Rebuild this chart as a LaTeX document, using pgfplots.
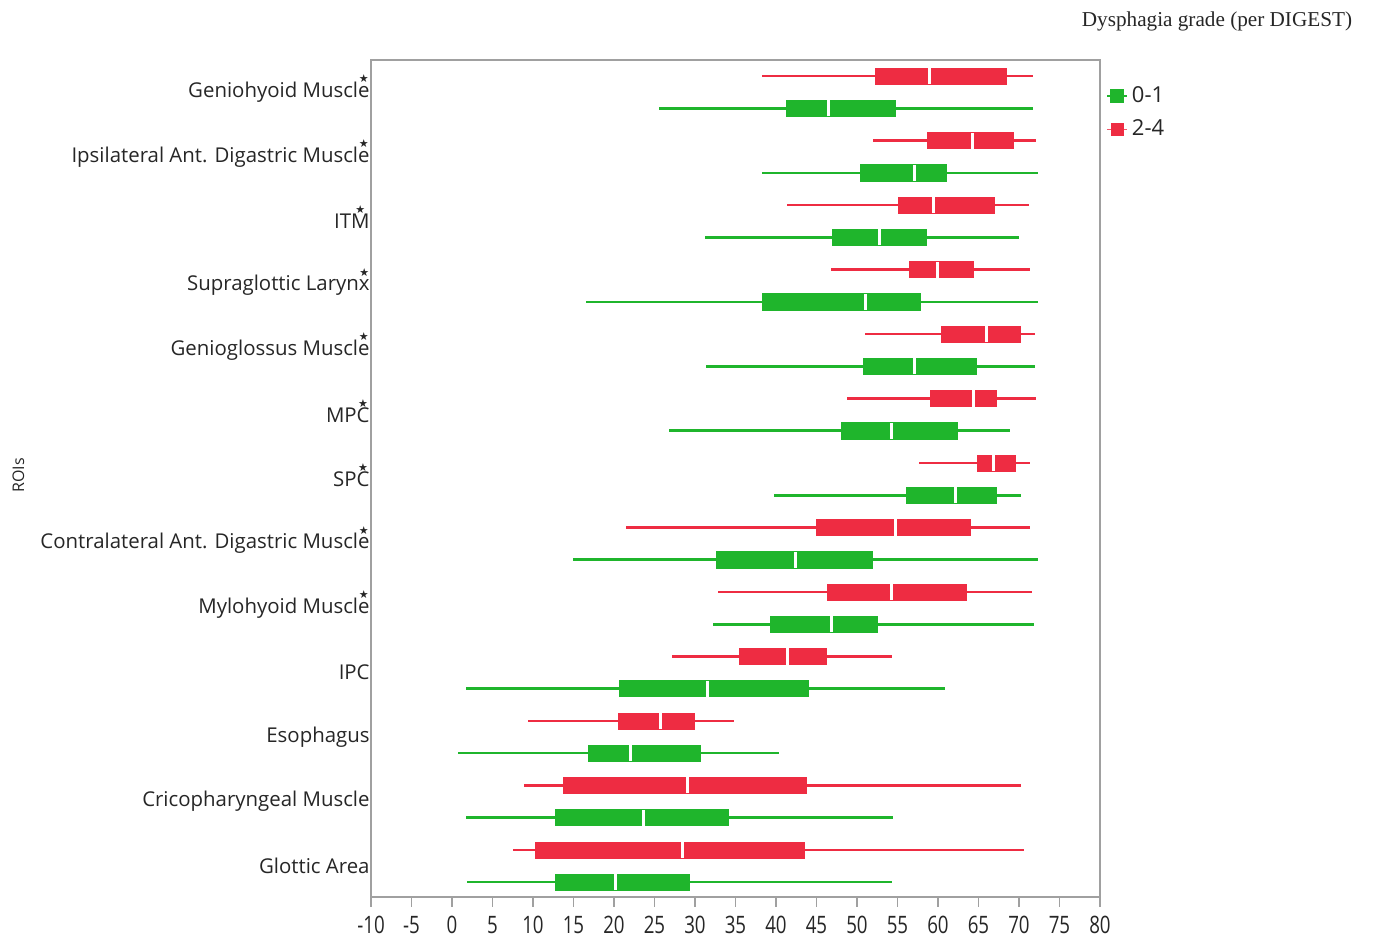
\documentclass[border=0pt]{standalone}
\usepackage{pgfplots}
\pgfplotsset{compat=1.18}
\usepgfplotslibrary{statistics}
\usepackage{fontspec}
\setmainfont{Open Sans}
\newfontfamily\seriffont{Liberation Serif}
\newfontfamily\starfont{DejaVu Sans}
\definecolor{gG}{RGB}{31,181,44}
\definecolor{rR}{RGB}{238,44,66}
\definecolor{frameC}{RGB}{160,160,160}
\newcommand\starred[1]{\ooalign{#1\cr\hidewidth\raisebox{7.3pt}{\starfont\fontsize{5.5}{5.5}\selectfont ★}\hidewidth\cr}}

\pgfplotsset{
  gbox/.style={forget plot,
    boxplot/every box/.style={draw=gG, fill=gG, line width=0.3pt},
    boxplot/every whisker/.style={draw=gG, line width=1.3pt},
    boxplot/every median/.style={draw=white, line width=1.5pt}},
  rbox/.style={forget plot,
    boxplot/every box/.style={draw=rR, fill=rR, line width=0.3pt},
    boxplot/every whisker/.style={draw=rR, line width=1.1pt},
    boxplot/every median/.style={draw=white, line width=1.5pt}},
}
% G{pos}{lower whisker}{lower quartile}{median}{upper quartile}{upper whisker}
\newcommand\G[6]{\addplot[gbox, boxplot prepared={draw position=#1, lower whisker=#2, lower quartile=#3, median=#4, upper quartile=#5, upper whisker=#6, box extend=0.25, whisker extend=0}] coordinates {};}
\newcommand\R[6]{\addplot[rbox, boxplot prepared={draw position=#1, lower whisker=#2, lower quartile=#3, median=#4, upper quartile=#5, upper whisker=#6, box extend=0.25, whisker extend=0}] coordinates {};}

\begin{document}
\begin{tikzpicture}
\path[use as bounding box] (-185.5pt,-22.5pt) rectangle (501pt,448.5pt);
\begin{axis}[
  at={(0,0)}, anchor=south west,
  scale only axis, width=364.5pt, height=418.5pt,
  xmin=-10, xmax=80, ymin=-0.48, ymax=12.5,
  clip=false,
  xtick={-10,-5,...,80},
  ytick={0,...,12},
  yticklabels={Glottic Area, Cricopharyngeal Muscle, Esophagus, IPC,
    Mylohyoid Muscl\starred{e}, Contralateral Ant. Digastric Muscl\starred{e},
    SP\starred{C}, MP\starred{C}, Genioglossus Muscl\starred{e},
    Supraglottic Laryn\starred{x}, IT\starred{M},
    Ipsilateral Ant. Digastric Muscl\starred{e}, Geniohyoid Muscl\starred{e}},
  axis line style={draw=frameC, line width=0.8pt},
  tick align=outside,
  xtick pos=bottom,
  ytick style={draw=none},
  major tick length=5pt,
  x tick style={draw=frameC, line width=0.6pt},
  /pgf/number format/assume math mode=true,
  xticklabel={\scalebox{0.78}[1]{\fontsize{12}{12}\selectfont\pgfmathprintnumber{\tick}}},
  xticklabel style={text=black!85, yshift=-1pt},
  yticklabel style={font=\fontsize{10.2}{12}\selectfont, text=black!85, inner xsep=0.5pt, xshift=5pt},
  ylabel={ROIs},
  ylabel style={font=\fontsize{8}{9}\selectfont, text=black!85, at={(axis description cs:-0.466,0.504)}},
  legend style={at={(axis description cs:1.0,0.978)}, anchor=north west, draw=none, fill=none,
    font=\fontsize{11}{13}\selectfont, row sep=3pt, text=black!85},
  legend cell align=left,
  legend image code/.code={\draw[#1] (0pt,0pt) -- (10pt,0pt); \path[#1] plot[mark=square*] coordinates {(5pt,0pt)};},
]
% green group (0-1)
\G{-0.25}{1.9}{12.7}{20.2}{29.3}{54.3}   % Glottic Area
\G{0.75}{1.7}{12.8}{23.7}{34.1}{54.5}    % Cricopharyngeal
\G{1.75}{0.8}{16.8}{22.0}{30.7}{40.4}    % Esophagus
\G{2.75}{1.7}{20.7}{31.6}{44.0}{60.9}    % IPC
\G{3.75}{32.2}{39.3}{46.8}{52.5}{71.8}   % Mylohyoid
\G{4.75}{15.0}{32.6}{42.4}{51.9}{72.3}   % Contralateral
\G{5.75}{39.7}{56.1}{62.2}{67.2}{70.2}   % SPC
\G{6.75}{26.8}{48.1}{54.3}{62.4}{68.9}   % MPC
\G{7.75}{31.4}{50.8}{57.1}{64.7}{72.0}   % Genioglossus
\G{8.75}{16.5}{38.3}{51.0}{57.8}{72.4}   % Supraglottic
\G{9.75}{31.2}{46.9}{52.8}{58.6}{70.0}   % ITM
\G{10.75}{38.3}{50.4}{57.1}{61.0}{72.4}  % Ipsilateral
\G{11.75}{25.6}{41.3}{46.5}{54.7}{71.7}  % Geniohyoid
% red group (2-4)
\R{0.25}{7.5}{10.3}{28.4}{43.5}{70.6}
\R{1.25}{8.9}{13.7}{29.1}{43.8}{70.2}
\R{2.25}{9.4}{20.5}{25.8}{29.9}{34.8}
\R{3.25}{27.2}{35.5}{41.4}{46.2}{54.3}
\R{4.25}{32.8}{46.3}{54.3}{63.5}{71.6}
\R{5.25}{21.5}{45.0}{54.8}{64.0}{71.4}
\R{6.25}{57.7}{64.9}{66.9}{69.6}{71.4}
\R{7.25}{48.8}{59.0}{64.4}{67.2}{72.1}
\R{8.25}{51.0}{60.4}{66.0}{70.2}{72.0}
\R{9.25}{46.8}{56.4}{60.0}{64.4}{71.4}
\R{10.25}{41.3}{55.1}{59.5}{67.0}{71.2}
\R{11.25}{52.0}{58.7}{64.3}{69.3}{72.1}
\R{12.25}{38.3}{52.2}{59.0}{68.4}{71.7}
\addlegendimage{draw=gG, line width=0.8pt, mark=square*, mark size=3pt, mark options={fill=gG, draw=gG}}
\addlegendentry{0-1}
\addlegendimage{draw=rR!80, line width=0.6pt, mark=square*, mark size=3pt, mark options={fill=rR, draw=rR}}
\addlegendentry{2-4}
\node[font=\seriffont\fontsize{10.6}{12}\selectfont, text=black!85] at (axis description cs:1.1605,1.046) {Dysphagia grade (per DIGEST)};
\end{axis}
\end{tikzpicture}
\end{document}
